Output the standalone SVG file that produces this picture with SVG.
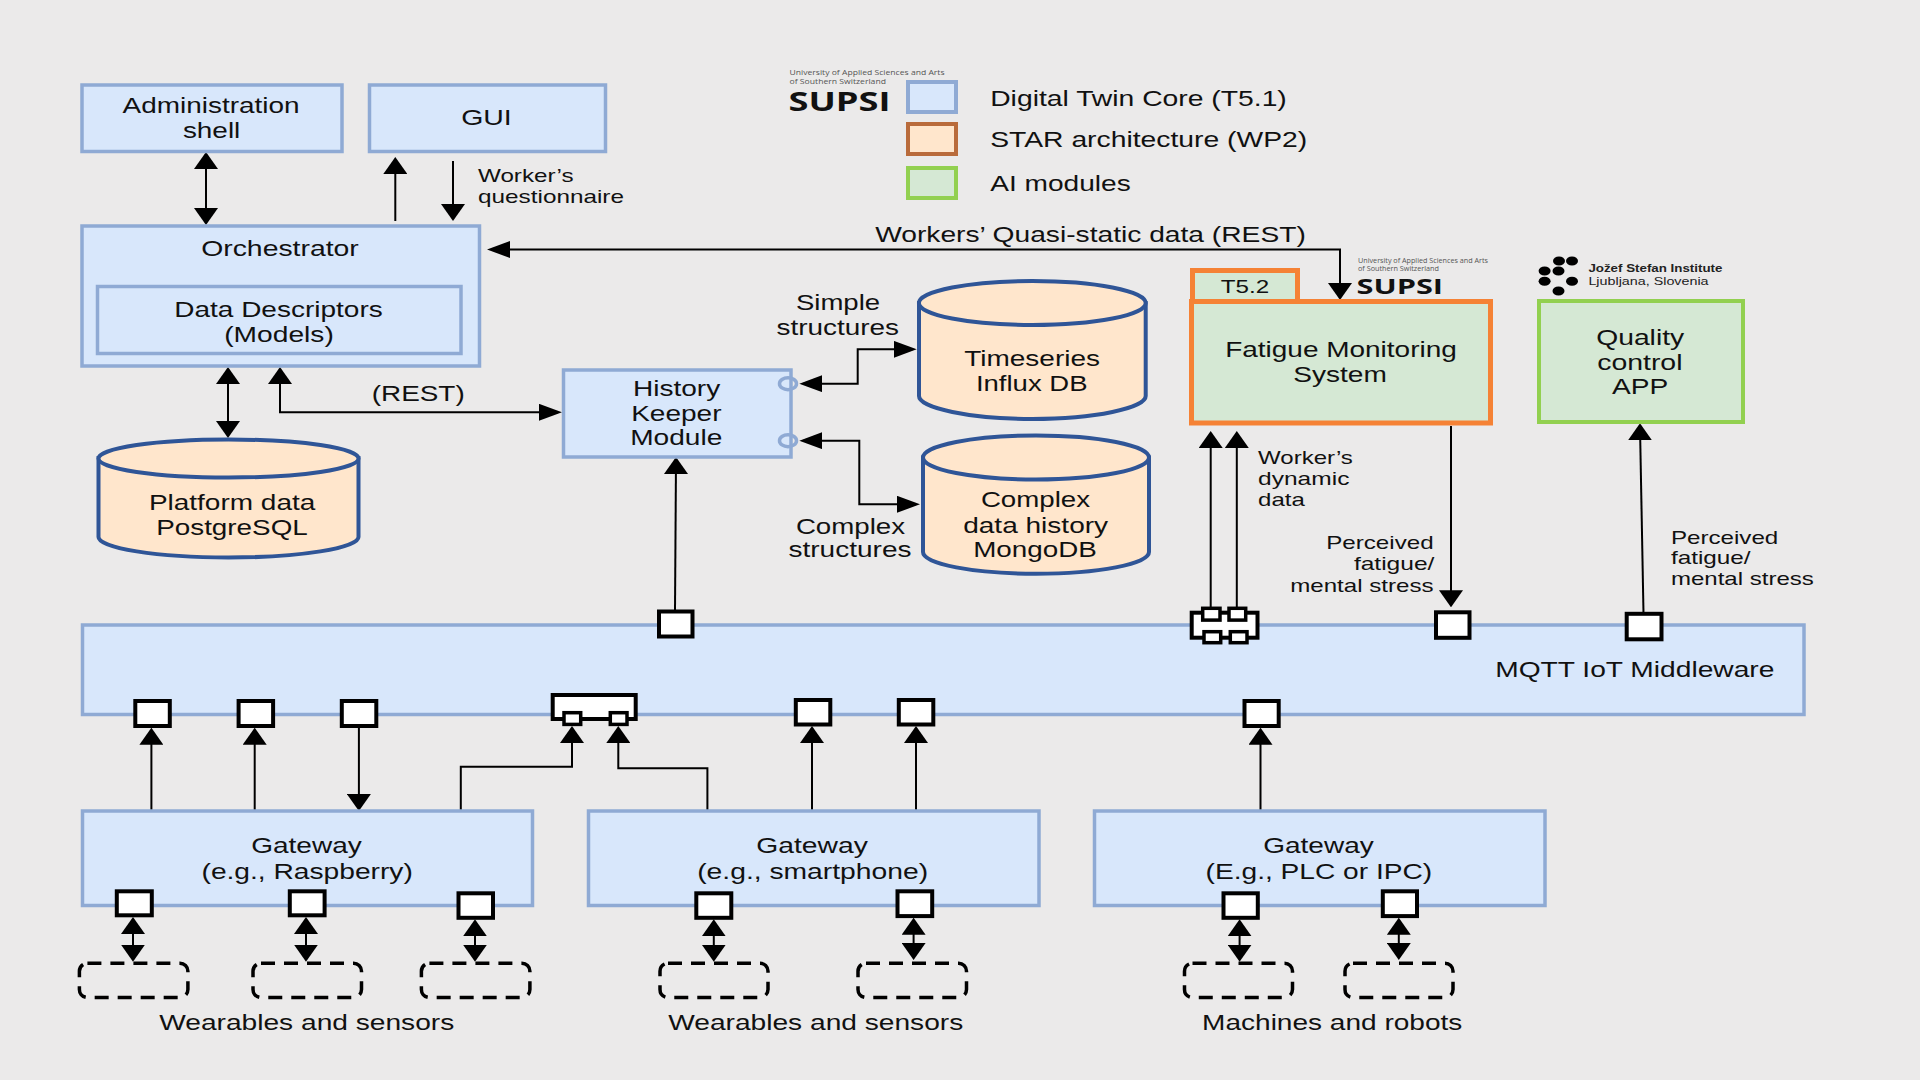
<svg xmlns="http://www.w3.org/2000/svg" width="1920" height="1080" viewBox="0 0 1920 1080">
  <style>
    text { font-family: "Liberation Sans", Arial, sans-serif; fill: #111; font-size: 22px; }
    .sm { font-size: 19px; }
    .logo { font-family: "Open Sans", "Noto Sans", sans-serif; }
    .fine { font-size: 8px; fill: #555; }
    .fine7 { font-size: 7px; fill: #555; }
    .brand { font-weight: 700; fill: #111; }
    .jsi { font-size: 10.5px; fill: #222; }
    .box { fill: #d8e7fb; stroke: #8faad4; stroke-width: 3.5; }
    .db { fill: #ffe6cc; stroke: #2f5597; stroke-width: 4; }
    .ai { fill: #d5e8d4; }
    .port { fill: #fff; stroke: #000; stroke-width: 4; }
    .mini { fill: #fff; stroke: #000; stroke-width: 3.5; }
    .dash { fill: none; stroke: #000; stroke-width: 3.5; stroke-dasharray: 14 9; }
    .wire { fill: none; stroke: #000; stroke-width: 2; }
    .socket { fill: none; stroke: #8faad4; stroke-width: 3.5; }
    .dot { fill: #000; }
  </style>
  <defs>
    <marker id="up" markerUnits="userSpaceOnUse" markerWidth="24" markerHeight="17" refX="12" refY="4" orient="0"><polygon points="12,0 24,17 0,17"/></marker>
    <marker id="down" markerUnits="userSpaceOnUse" markerWidth="24" markerHeight="17" refX="12" refY="13" orient="0"><polygon points="0,0 24,0 12,17"/></marker>
    <marker id="right" markerUnits="userSpaceOnUse" markerWidth="23" markerHeight="17" refX="19" refY="8.5" orient="0"><polygon points="0,0 23,8.5 0,17"/></marker>
    <marker id="left" markerUnits="userSpaceOnUse" markerWidth="23" markerHeight="17" refX="4" refY="8.5" orient="0"><polygon points="23,0 0,8.5 23,17"/></marker>
  </defs>

  <rect width="1920" height="1080" fill="#ebeaea"/>

  <g id="legend">
    <text class="logo fine" x="789.5" y="75" textLength="155" lengthAdjust="spacingAndGlyphs">University of Applied Sciences and Arts</text>
    <text class="logo fine" x="789.5" y="83.5" textLength="96.5" lengthAdjust="spacingAndGlyphs">of Southern Switzerland</text>
    <text class="logo brand" x="788.5" y="111" style="font-size:27px" textLength="102" lengthAdjust="spacingAndGlyphs">SUPSI</text>
    <rect x="908" y="82" width="48" height="30" fill="#d8e7fb" stroke="#8faad4" stroke-width="4"/>
    <rect x="908" y="124" width="48" height="30" fill="#ffe6cc" stroke="#b96b3b" stroke-width="4"/>
    <rect x="908" y="168" width="48" height="30" fill="#d5e8d4" stroke="#92d050" stroke-width="4"/>
    <text x="990.2" y="106" textLength="296.6" lengthAdjust="spacingAndGlyphs">Digital Twin Core (T5.1)</text>
    <text x="990.2" y="146.5" textLength="317" lengthAdjust="spacingAndGlyphs">STAR architecture (WP2)</text>
    <text x="990.2" y="191" textLength="140.6" lengthAdjust="spacingAndGlyphs">AI modules</text>
  </g>

  <g id="connectors" class="wire">
    <path d="M206 156V221" marker-start="url(#up)" marker-end="url(#down)"/>
    <path d="M395.3 221V161" marker-end="url(#up)"/>
    <path d="M453 161V217" marker-end="url(#down)"/>
    <path d="M491 249.5H1340V296" marker-start="url(#left)" marker-end="url(#down)"/>
    <path d="M228 371V434" marker-start="url(#up)" marker-end="url(#down)"/>
    <path d="M280 371V412.3H558" marker-start="url(#up)" marker-end="url(#right)"/>
    <path d="M675 610L676 461" marker-end="url(#up)"/>
    <path d="M803.3 383.7H857.7V349.3H912.7" marker-start="url(#left)" marker-end="url(#right)"/>
    <path d="M803.3 440.7H859.3V504.3H916" marker-start="url(#left)" marker-end="url(#right)"/>
    <path d="M1210.7 608V435" marker-end="url(#up)"/>
    <path d="M1236.8 608V435" marker-end="url(#up)"/>
    <path d="M1451 426V603.3" marker-end="url(#down)"/>
    <path d="M1643.5 613L1640 427.3" marker-end="url(#up)"/>
    <path d="M151.4 811V731.7" marker-end="url(#up)"/>
    <path d="M254.7 811V731.7" marker-end="url(#up)"/>
    <path d="M358.9 727V807" marker-end="url(#down)"/>
    <path d="M460.8 811V766.7H572V730" marker-end="url(#up)"/>
    <path d="M707.4 811V768.3H618.3V730" marker-end="url(#up)"/>
    <path d="M812 811V730" marker-end="url(#up)"/>
    <path d="M916 811V730" marker-end="url(#up)"/>
    <path d="M1260.5 811V731.7" marker-end="url(#up)"/>
    <path d="M133 921V957.7" marker-start="url(#up)" marker-end="url(#down)"/>
    <path d="M306 921V957.7" marker-start="url(#up)" marker-end="url(#down)"/>
    <path d="M475 923.3V957.7" marker-start="url(#up)" marker-end="url(#down)"/>
    <path d="M713.8 923.3V957.7" marker-start="url(#up)" marker-end="url(#down)"/>
    <path d="M913.6 921.7V956" marker-start="url(#up)" marker-end="url(#down)"/>
    <path d="M1239.6 923.3V957.7" marker-start="url(#up)" marker-end="url(#down)"/>
    <path d="M1398.8 921.7V956" marker-start="url(#up)" marker-end="url(#down)"/>
  </g>

  <g id="connector-labels">
    <text class="sm" x="478" y="181.7" textLength="95.5" lengthAdjust="spacingAndGlyphs">Worker’s</text>
    <text class="sm" x="478" y="202.7" textLength="146" lengthAdjust="spacingAndGlyphs">questionnaire</text>
    <text x="875.2" y="242" textLength="430.6" lengthAdjust="spacingAndGlyphs">Workers’ Quasi-static data (REST)</text>
    <text x="371.7" y="401" textLength="93" lengthAdjust="spacingAndGlyphs">(REST)</text>
    <text x="795.9" y="309.5" textLength="84.2" lengthAdjust="spacingAndGlyphs">Simple</text>
    <text x="776.5" y="334.5" textLength="122.6" lengthAdjust="spacingAndGlyphs">structures</text>
    <text x="795.9" y="533.5" textLength="109.2" lengthAdjust="spacingAndGlyphs">Complex</text>
    <text x="788.5" y="557" textLength="123" lengthAdjust="spacingAndGlyphs">structures</text>
    <text class="sm" x="1258.1" y="464" textLength="94.7" lengthAdjust="spacingAndGlyphs">Worker’s</text>
    <text class="sm" x="1258.1" y="485.2" textLength="91.3" lengthAdjust="spacingAndGlyphs">dynamic</text>
    <text class="sm" x="1258.1" y="506.2" textLength="46.7" lengthAdjust="spacingAndGlyphs">data</text>
    <text class="sm" x="1326.2" y="549.3" textLength="107.4" lengthAdjust="spacingAndGlyphs">Perceived</text>
    <text class="sm" x="1353.9" y="570" textLength="80.5" lengthAdjust="spacingAndGlyphs">fatigue/</text>
    <text class="sm" x="1290.2" y="591.7" textLength="143.4" lengthAdjust="spacingAndGlyphs">mental stress</text>
    <text class="sm" x="1670.9" y="543.5" textLength="107.4" lengthAdjust="spacingAndGlyphs">Perceived</text>
    <text class="sm" x="1670.9" y="563.7" textLength="79.7" lengthAdjust="spacingAndGlyphs">fatigue/</text>
    <text class="sm" x="1670.9" y="585" textLength="142.9" lengthAdjust="spacingAndGlyphs">mental stress</text>
    <text x="159.2" y="1029.5" textLength="295.1" lengthAdjust="spacingAndGlyphs">Wearables and sensors</text>
    <text x="668.2" y="1029.5" textLength="295.1" lengthAdjust="spacingAndGlyphs">Wearables and sensors</text>
    <text x="1202.1" y="1029.5" textLength="260.2" lengthAdjust="spacingAndGlyphs">Machines and robots</text>
  </g>

  <g id="admin-shell">
    <rect class="box" x="82" y="85" width="260" height="66.5"/>
    <text x="122.6" y="113" textLength="177" lengthAdjust="spacingAndGlyphs">Administration</text>
    <text x="182.9" y="138" textLength="57.4" lengthAdjust="spacingAndGlyphs">shell</text>
  </g>
  <g id="gui">
    <rect class="box" x="369.5" y="85" width="236" height="66.5"/>
    <text x="461.2" y="125" textLength="50.6" lengthAdjust="spacingAndGlyphs">GUI</text>
  </g>
  <g id="orchestrator">
    <rect class="box" x="82" y="226" width="397.5" height="140"/>
    <text x="201.2" y="256.2" textLength="157.6" lengthAdjust="spacingAndGlyphs">Orchestrator</text>
    <rect class="box" x="97.5" y="286.5" width="363.5" height="67"/>
    <text x="174.2" y="317" textLength="208.6" lengthAdjust="spacingAndGlyphs">Data Descriptors</text>
    <text x="224.2" y="342.2" textLength="109.6" lengthAdjust="spacingAndGlyphs">(Models)</text>
  </g>
  <g id="platform-data">
    <path class="db" d="M98.5 458V537C98.5 548 157 557.500 228.500 557.500S358.500 548 358.500 537V458Z"/>
    <ellipse class="db" cx="228.500" cy="458.500" rx="130" ry="19"/>
    <text x="148.900" y="510" textLength="166.400" lengthAdjust="spacingAndGlyphs">Platform data</text>
    <text x="156.200" y="535" textLength="151.600" lengthAdjust="spacingAndGlyphs">PostgreSQL</text>
  </g>
  <g id="history-keeper">
    <rect class="box" x="563.500" y="370" width="227.500" height="87"/>
    <ellipse class="socket" cx="788" cy="383.700" rx="8.500" ry="6"/>
    <ellipse class="socket" cx="788" cy="440.700" rx="8.500" ry="6"/>
    <text x="632.900" y="395.700" textLength="87.300" lengthAdjust="spacingAndGlyphs">History</text>
    <text x="631.200" y="421" textLength="90.300" lengthAdjust="spacingAndGlyphs">Keeper</text>
    <text x="630.200" y="445.300" textLength="92.200" lengthAdjust="spacingAndGlyphs">Module</text>
  </g>
  <g id="timeseries-db">
    <path class="db" d="M919 303V396C919 408 970 419 1032.300 419S1145.700 408 1145.700 396V303Z"/>
    <ellipse class="db" cx="1032.300" cy="303" rx="113.400" ry="22"/>
    <text x="964.200" y="366" textLength="135.900" lengthAdjust="spacingAndGlyphs">Timeseries</text>
    <text x="975.900" y="390.700" textLength="111.600" lengthAdjust="spacingAndGlyphs">Influx DB</text>
  </g>
  <g id="history-db">
    <path class="db" d="M923 457.500V552C923 564 974 573.700 1036 573.700S1149 564 1149 552V457.500Z"/>
    <ellipse class="db" cx="1036" cy="457.500" rx="113" ry="22"/>
    <text x="980.900" y="506.700" textLength="109.200" lengthAdjust="spacingAndGlyphs">Complex</text>
    <text x="963.200" y="532.500" textLength="144.900" lengthAdjust="spacingAndGlyphs">data history</text>
    <text x="973.200" y="557" textLength="123.600" lengthAdjust="spacingAndGlyphs">MongoDB</text>
  </g>
  <g id="t52-tab">
    <rect class="ai" x="1192.500" y="270.500" width="105" height="32" stroke="#f58235" stroke-width="5"/>
    <text class="sm" x="1220.800" y="293.300" textLength="48.400" lengthAdjust="spacingAndGlyphs">T5.2</text>
  </g>
  <g id="fatigue-monitoring">
    <rect class="ai" x="1191.500" y="301.500" width="299" height="121.500" stroke="#f58235" stroke-width="5"/>
    <text x="1225.200" y="356.700" textLength="231.600" lengthAdjust="spacingAndGlyphs">Fatigue Monitoring</text>
    <text x="1293.200" y="381.700" textLength="93.600" lengthAdjust="spacingAndGlyphs">System</text>
  </g>
  <g id="supsi-mark">
    <text class="logo fine7" x="1358" y="263.300" textLength="130" lengthAdjust="spacingAndGlyphs">University of Applied Sciences and Arts</text>
    <text class="logo fine7" x="1358" y="270.700" textLength="81" lengthAdjust="spacingAndGlyphs">of Southern Switzerland</text>
    <text class="logo brand" x="1356.500" y="294" style="font-size:22px" textLength="86.500" lengthAdjust="spacingAndGlyphs">SUPSI</text>
  </g>
  <g id="jsi-mark">
    <ellipse class="dot" cx="1559" cy="261" rx="6" ry="4.500"/>
    <ellipse class="dot" cx="1572" cy="261" rx="6" ry="4.500"/>
    <ellipse class="dot" cx="1544.600" cy="271" rx="6" ry="4.500"/>
    <ellipse class="dot" cx="1558.500" cy="271" rx="6" ry="4.500"/>
    <ellipse class="dot" cx="1544.600" cy="281.300" rx="6" ry="4.500"/>
    <ellipse class="dot" cx="1572" cy="281.300" rx="6" ry="4.500"/>
    <ellipse class="dot" cx="1558.500" cy="291" rx="6" ry="4.500"/>
    <text class="jsi" x="1588.400" y="272.300" font-weight="700" textLength="134" lengthAdjust="spacingAndGlyphs">Jožef Stefan Institute</text>
    <text class="jsi" x="1588.400" y="285" textLength="120.200" lengthAdjust="spacingAndGlyphs">Ljubljana, Slovenia</text>
  </g>
  <g id="quality-control">
    <rect class="ai" x="1539" y="301" width="204" height="121" stroke="#92d050" stroke-width="4"/>
    <text x="1596.200" y="345" textLength="88" lengthAdjust="spacingAndGlyphs">Quality</text>
    <text x="1597.200" y="370" textLength="85.300" lengthAdjust="spacingAndGlyphs">control</text>
    <text x="1611.900" y="394.300" textLength="56.300" lengthAdjust="spacingAndGlyphs">APP</text>
  </g>
  <g id="mqtt-middleware">
    <rect class="box" x="82.500" y="625" width="1721.500" height="89.500"/>
    <text x="1495.200" y="677.300" textLength="279.200" lengthAdjust="spacingAndGlyphs">MQTT IoT Middleware</text>
  </g>
  <g id="gateway-raspberry">
    <rect class="box" x="82.500" y="811" width="450" height="94.500"/>
    <text x="251.200" y="852.700" textLength="110.600" lengthAdjust="spacingAndGlyphs">Gateway</text>
    <text x="201.500" y="878.500" textLength="211.300" lengthAdjust="spacingAndGlyphs">(e.g., Raspberry)</text>
  </g>
  <g id="gateway-smartphone">
    <rect class="box" x="588.500" y="811" width="450.500" height="94.500"/>
    <text x="756.200" y="852.700" textLength="111.600" lengthAdjust="spacingAndGlyphs">Gateway</text>
    <text x="697.200" y="878.500" textLength="230.900" lengthAdjust="spacingAndGlyphs">(e.g., smartphone)</text>
  </g>
  <g id="gateway-plc">
    <rect class="box" x="1094.500" y="811" width="450.500" height="94.500"/>
    <text x="1263.200" y="852.700" textLength="110.600" lengthAdjust="spacingAndGlyphs">Gateway</text>
    <text x="1205.600" y="878.500" textLength="226.600" lengthAdjust="spacingAndGlyphs">(E.g., PLC or IPC)</text>
  </g>

  <g id="ports">
    <rect class="port" x="659" y="611.500" width="33.500" height="25"/>
    <rect class="port" x="1436" y="612.300" width="33.500" height="25.500"/>
    <rect class="port" x="1626.700" y="613.800" width="34.800" height="25.500"/>
    <rect class="port" x="135.300" y="701" width="34.500" height="25"/>
    <rect class="port" x="238.600" y="701" width="34.500" height="25"/>
    <rect class="port" x="341.800" y="701" width="34.500" height="25"/>
    <rect class="port" x="795.800" y="700" width="34.500" height="24.500"/>
    <rect class="port" x="898.800" y="700" width="34.500" height="24.500"/>
    <rect class="port" x="1244.500" y="701" width="34.200" height="25"/>
    <rect class="port" x="116.800" y="891.300" width="35" height="24"/>
    <rect class="port" x="289.800" y="891.300" width="34.800" height="24"/>
    <rect class="port" x="458.500" y="893.300" width="34.500" height="24.500"/>
    <rect class="port" x="696.300" y="893.300" width="35" height="24.500"/>
    <rect class="port" x="897.500" y="891.300" width="34.700" height="24.800"/>
    <rect class="port" x="1223.500" y="893.300" width="34.300" height="24.500"/>
    <rect class="port" x="1382.800" y="891.300" width="34.200" height="24.800"/>
    <g id="port-bridge-top">
      <rect class="port" x="1191.700" y="612.700" width="65.800" height="25"/>
      <rect class="mini" x="1202.700" y="608.300" width="17.300" height="11.800"/>
      <rect class="mini" x="1229" y="608.300" width="16.700" height="11.800"/>
      <rect class="mini" x="1204" y="631.700" width="16.700" height="11"/>
      <rect class="mini" x="1230.300" y="631.700" width="16.700" height="11"/>
    </g>
    <g id="port-bridge-bottom">
      <rect class="port" x="552.700" y="695" width="83" height="24"/>
      <rect class="mini" x="564" y="712.700" width="16.700" height="11.700"/>
      <rect class="mini" x="610.300" y="712.700" width="16.700" height="11.700"/>
    </g>
  </g>

  <g id="field-devices">
    <rect class="dash" x="79.400" y="963.200" width="108.500" height="34.300" rx="8"/>
    <rect class="dash" x="253" y="963.200" width="108.500" height="34.300" rx="8"/>
    <rect class="dash" x="421.400" y="963.200" width="108.500" height="34.300" rx="8"/>
    <rect class="dash" x="660" y="963.200" width="108" height="34.300" rx="8"/>
    <rect class="dash" x="858" y="963.200" width="108.500" height="34.300" rx="8"/>
    <rect class="dash" x="1184.500" y="963.200" width="108" height="34.300" rx="8"/>
    <rect class="dash" x="1345" y="963.200" width="108" height="34.300" rx="8"/>
  </g>
</svg>
